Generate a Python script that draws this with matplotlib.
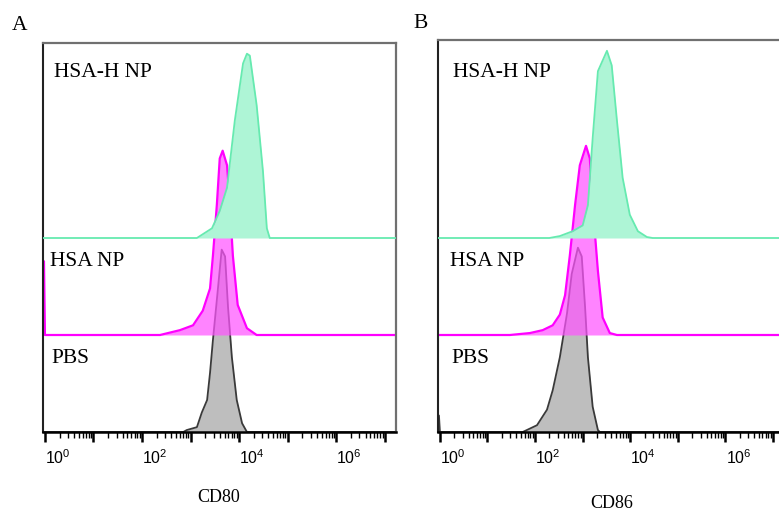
import numpy as np
import matplotlib
matplotlib.use("Agg")
import matplotlib.pyplot as plt
import matplotlib.ticker as mticker
import matplotlib.transforms as mtrans

plt.rcParams["mathtext.fontset"] = "custom"
plt.rcParams["mathtext.rm"] = "Liberation Sans"
plt.rcParams["mathtext.it"] = "Liberation Sans"

# histogram outlines: log10(intensity), relative height
cd80_hi_log = [-0.04, 3.13, 3.44, 3.60, 3.75, 3.91, 4.08, 4.16, 4.22, 4.36, 4.49, 4.57, 4.63, 7.3]
cd80_hi_h = [0, 0, 0.10, 0.28, 0.52, 1.21, 1.80, 1.90, 1.88, 1.37, 0.69, 0.10, 0, 0]
cd80_np_log = [-0.04, -0.02, 0.0, 2.37, 2.78, 3.05, 3.25, 3.40, 3.46, 3.54, 3.60, 3.66, 3.75, 3.81, 3.87, 3.97, 4.16, 4.36, 7.3]
cd80_np_h = [0.76, 0.76, 0, 0, 0.05, 0.10, 0.25, 0.48, 0.82, 1.34, 1.82, 1.90, 1.75, 1.34, 0.82, 0.31, 0.07, 0, 0]
cd80_pbs_log = [-0.04, 2.85, 2.92, 3.13, 3.23, 3.34, 3.40, 3.46, 3.54, 3.64, 3.71, 3.77, 3.85, 3.95, 4.06, 4.16, 7.3]
cd80_pbs_h = [0, 0, 0.02, 0.05, 0.20, 0.33, 0.61, 0.95, 1.36, 1.88, 1.81, 1.29, 0.77, 0.33, 0.09, 0, 0]

cd86_hi_log = [-0.04, 2.30, 2.52, 2.79, 3.00, 3.11, 3.21, 3.32, 3.51, 3.61, 3.72, 3.84, 3.99, 4.16, 4.35, 4.47, 7.3]
cd86_hi_h = [0, 0, 0.02, 0.07, 0.13, 0.34, 1.03, 1.72, 1.93, 1.78, 1.21, 0.62, 0.24, 0.07, 0.01, 0, 0]
cd86_np_log = [-0.04, 1.47, 1.89, 2.16, 2.37, 2.52, 2.63, 2.73, 2.84, 2.94, 3.07, 3.15, 3.21, 3.32, 3.42, 3.57, 3.72, 7.3]
cd86_np_h = [0, 0, 0.02, 0.05, 0.10, 0.21, 0.41, 0.82, 1.34, 1.75, 1.95, 1.82, 1.34, 0.66, 0.18, 0.02, 0, 0]
cd86_pbs_log = [-0.04, -0.02, 0.0, 1.74, 2.04, 2.25, 2.37, 2.52, 2.67, 2.77, 2.90, 2.98, 3.05, 3.11, 3.21, 3.32, 3.36, 7.3]
cd86_pbs_h = [0.17, 0.17, 0, 0, 0.07, 0.23, 0.43, 0.77, 1.22, 1.63, 1.90, 1.81, 1.29, 0.77, 0.26, 0.02, 0, 0]

names = ["PBS", "HSA NP", "HSA-H NP"]
offsets = [0, 1, 2]
panels = [
    ("A", "CD80", [(cd80_pbs_log, cd80_pbs_h), (cd80_np_log, cd80_np_h), (cd80_hi_log, cd80_hi_h)]),
    ("B", "CD86", [(cd86_pbs_log, cd86_pbs_h), (cd86_np_log, cd86_np_h), (cd86_hi_log, cd86_hi_h)]),
]
fills = ["#a9a9a9", "#ff55ff", "#aef5d6"]
edges = ["#3a3a3a", "#ff00ff", "#66eab0"]
alphas = [0.75, 0.72, 1.0]

W, H = 779, 513
fig = plt.figure(figsize=(W / 100, H / 100), dpi=100)

# axes boxes in pixels: left, right, top, bottom
boxes = [(43, 396, 43, 432), (438, 784, 40, 432)]
lab_x = [[0.025, 0.02, 0.031], [0.04, 0.035, 0.043]]
lab_y = [0.76, 1.76, 3.71]
letter_pos = [(20, 25), (421, 24)]
xlab_pos = [(219, 498), (612, 503)]

for p, (letter, marker, series) in enumerate(panels):
    l, r, t, b = boxes[p]
    ax = fig.add_axes([l / W, 1 - b / H, (r - l) / W, (b - t) / H])
    ax.set_xscale("log")
    ax.set_xlim(10 ** -0.04, 10 ** 7.23)
    ax.set_ylim(0, (b - t) / 97)

    for i in [2, 1, 0]:
        lx, h = series[i]
        x = 10 ** np.array(lx)
        y = offsets[i] + np.array(h)
        ax.fill_between(x, offsets[i], y, color=fills[i], alpha=alphas[i], lw=0, zorder=i + 1)
        ax.plot(x, y, color=edges[i], lw=1.6 if i == 1 else 1.3, zorder=i + 1.5)
        ax.text(lab_x[p][i], lab_y[i], names[i], transform=mtrans.blended_transform_factory(ax.transAxes, ax.transData),
                fontsize=15.5, family="Liberation Serif", va="center", ha="left", zorder=10)

    for s in ["top", "right"]:
        ax.spines[s].set_color("#707070")
        ax.spines[s].set_linewidth(1.6)
    ax.spines["left"].set_color("#222222")
    ax.spines["left"].set_linewidth(1.5)
    ax.spines["bottom"].set_color("black")
    ax.spines["bottom"].set_linewidth(1.8)
    ax.set_yticks([])

    ax.xaxis.set_major_locator(mticker.FixedLocator([10.0 ** k for k in range(8)]))
    ax.xaxis.set_minor_locator(mticker.LogLocator(base=10, subs=np.arange(2, 10), numticks=20))
    ax.xaxis.set_major_formatter(mticker.FuncFormatter(
        lambda v, pos: "$10^{%d}$" % round(np.log10(v)) if round(np.log10(v)) % 2 == 0 else ""))
    ax.xaxis.set_minor_formatter(mticker.NullFormatter())
    ax.tick_params(axis="x", which="major", direction="out", length=7, width=1.8, pad=5, labelsize=11.5, color="black")
    ax.tick_params(axis="x", which="minor", direction="out", length=4, width=1.0, color="black")
    shift = mtrans.ScaledTranslation(13 / 100, 0, fig.dpi_scale_trans)
    for lab in ax.get_xticklabels():
        lab.set_transform(lab.get_transform() + shift)

    fig.text(letter_pos[p][0] / W, 1 - letter_pos[p][1] / H, letter, fontsize=15.5,
             family="Liberation Serif", ha="center", va="center")
    fig.text(xlab_pos[p][0] / W, 1 - xlab_pos[p][1] / H, marker, fontsize=13,
             family="Liberation Serif", ha="center", va="center")

fig.savefig("out.png", dpi=100)
